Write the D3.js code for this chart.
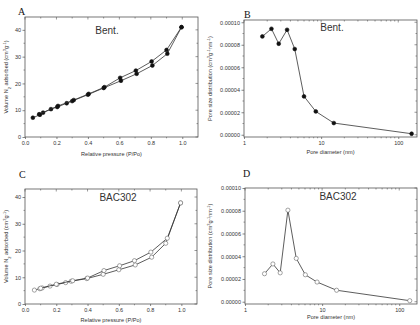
<!DOCTYPE html>
<html>
<head>
<meta charset="utf-8">
<script src="https://cdn.jsdelivr.net/npm/d3@7"></script>
<style>
  body { margin: 0; background: #fff; }
  svg { display: block; }
  text { font-family: "Liberation Sans", Arial, sans-serif; fill: #333; }
  .letter { font-family: "Liberation Serif", "Times New Roman", serif; font-size: 10px; fill: #111; }
</style>
</head>
<body>
<div id="chart"></div>
<script>
// Bentonite isotherm (adsorption / desorption branches)
var bentAdsP = [0.05, 0.095, 0.115, 0.165, 0.205, 0.265, 0.30, 0.40, 0.50, 0.61, 0.71, 0.81, 0.905, 0.995];
var bentAdsV = [7.2, 8.3, 9.1, 10.4, 11.2, 12.6, 13.4, 15.8, 18.3, 21.0, 23.6, 26.7, 31.1, 41.0];
var bentDesP = [0.995, 0.90, 0.805, 0.705, 0.605, 0.505, 0.405, 0.31, 0.21, 0.09];
var bentDesV = [41.0, 32.5, 28.2, 24.8, 22.1, 18.6, 16.1, 13.8, 11.6, 8.5];

// BAC302 isotherm
var bacAdsP = [0.06, 0.095, 0.11, 0.16, 0.205, 0.26, 0.295, 0.395, 0.50, 0.60, 0.705, 0.81, 0.90, 0.995];
var bacAdsV = [5.2, 5.7, 6.0, 6.7, 7.3, 8.0, 8.5, 9.5, 11.1, 12.8, 14.6, 17.5, 22.7, 37.8];
var bacDesP = [0.995, 0.91, 0.805, 0.70, 0.605, 0.505, 0.40, 0.305, 0.20, 0.10];
var bacDesV = [37.8, 24.6, 19.4, 16.2, 14.3, 12.5, 9.7, 8.7, 7.4, 5.9];

// pore size distributions
var bentPoreD = [1.73, 2.27, 2.82, 3.62, 4.55, 6.0, 8.53, 14.6, 149];
var bentPsd = [8.74e-5, 9.42e-5, 8.09e-5, 9.33e-5, 7.62e-5, 3.41e-5, 2.07e-5, 1.04e-5, 0.09e-5];
var bacPoreD = [1.79, 2.3, 2.86, 3.6, 4.62, 6.06, 8.6, 15.4, 137];
var bacPsd = [2.46e-5, 3.32e-5, 2.54e-5, 8.05e-5, 3.81e-5, 2.37e-5, 1.73e-5, 1.01e-5, 0.09e-5];

var isoTicks = [0, 0.2, 0.4, 0.6, 0.8, 1.0];
var volTicks = [0, 10, 20, 30, 40];
var psdTicks = [0, 2e-5, 4e-5, 6e-5, 8e-5, 1e-4];
var poreTicks = [1, 10, 100];

var svg = d3.select("#chart").append("svg")
    .attr("width", 420)
    .attr("height", 325);

var lineCol = "#333";

function zip(a, b) { return a.map(function(v, i) { return [v, b[i]]; }); }

function panel(p) {
  var g = svg.append("g");
  var x = p.log ? d3.scaleLog().domain(p.xd).range([p.l, p.r])
                : d3.scaleLinear().domain(p.xd).range([p.l, p.r]);
  var y = d3.scaleLinear().domain(p.yd).range([p.b, p.t]);

  // minor ticks
  var xMinor, yMinor;
  if (p.log) {
    xMinor = [];
    [1, 10, 100].forEach(function(d) {
      for (var k = 2; k < 10; k++) if (d * k <= p.xd[1]) xMinor.push(d * k);
    });
  } else {
    xMinor = d3.range(0.1, p.xd[1], 0.2);
  }
  var ys = p.yTicks[1] - p.yTicks[0];
  yMinor = d3.range(p.yTicks[0] + ys / 2, p.yd[1], ys);

  var bottom = d3.axisBottom(x).tickValues(p.xTicks).tickSize(2).tickPadding(1.5).tickFormat(p.xFmt);
  var left = d3.axisLeft(y).tickValues(p.yTicks).tickSize(2.5).tickPadding(1.5).tickFormat(p.yFmt);

  var ax = g.append("g").attr("transform", "translate(0," + p.b + ")").call(bottom);
  var ay = g.append("g").attr("transform", "translate(" + p.l + ",0)").call(left);
  [ax, ay].forEach(function(a) {
    a.select(".domain").remove();
    a.selectAll("line").attr("stroke", "#555").attr("stroke-width", 0.7);
    a.selectAll("text").style("font-size", "5.5px").attr("fill", "#333");
  });
  ax.selectAll("text").attr("dy", "0.75em");

  var tk = g.append("g").attr("stroke", "#555").attr("stroke-width", 0.6);
  xMinor.forEach(function(v) {
    tk.append("line").attr("x1", x(v)).attr("x2", x(v)).attr("y1", p.b).attr("y2", p.b + 1.3);
    tk.append("line").attr("x1", x(v)).attr("x2", x(v)).attr("y1", p.t).attr("y2", p.t + 1.5);
  });
  p.xTicks.forEach(function(v) {
    tk.append("line").attr("x1", x(v)).attr("x2", x(v)).attr("y1", p.t).attr("y2", p.t + 2.5);
  });
  yMinor.forEach(function(v) {
    tk.append("line").attr("x1", p.l).attr("x2", p.l - 1.5).attr("y1", y(v)).attr("y2", y(v));
    tk.append("line").attr("x1", p.r).attr("x2", p.r - 1.5).attr("y1", y(v)).attr("y2", y(v));
  });
  p.yTicks.forEach(function(v) {
    tk.append("line").attr("x1", p.r).attr("x2", p.r - 2.5).attr("y1", y(v)).attr("y2", y(v));
  });

  // axes box
  g.append("rect")
      .attr("x", p.l).attr("y", p.t)
      .attr("width", p.r - p.l).attr("height", p.b - p.t)
      .attr("fill", "none").attr("stroke", "#555").attr("stroke-width", 0.8);

  var line = d3.line().x(function(d) { return x(d[0]); }).y(function(d) { return y(d[1]); });

  p.series.forEach(function(s) {
    var pts = zip(s[0], s[1]);
    g.append("path").datum(pts)
        .attr("d", line)
        .attr("fill", "none")
        .attr("stroke", lineCol)
        .attr("stroke-width", 0.8);
    g.selectAll(null).data(pts).enter().append("circle")
        .attr("cx", function(d) { return x(d[0]); })
        .attr("cy", function(d) { return y(d[1]); })
        .attr("r", p.open ? 2.1 : 1.9)
        .attr("fill", p.open ? "#fff" : "#111")
        .attr("stroke", p.open ? "#666" : "#111")
        .attr("stroke-width", 0.6);
  });

  // labels
  g.append("text").attr("class", "letter")
      .attr("x", p.letterX).attr("y", p.letterY).text(p.letter);
  g.append("text")
      .attr("x", p.nameX).attr("y", p.nameY)
      .attr("text-anchor", "middle")
      .style("font-size", "10px").attr("fill", "#222")
      .text(p.name);
  g.append("text")
      .attr("x", (p.l + p.r) / 2).attr("y", p.b + p.xLabelDy)
      .attr("text-anchor", "middle")
      .style("font-size", "5.6px")
      .text(p.xLabel);

  var yl = g.append("text")
      .attr("transform", "translate(" + p.yLabelX + "," + ((p.t + p.b) / 2) + ") rotate(-90)")
      .attr("text-anchor", "middle")
      .style("font-size", "5.6px");
  p.yLabel.forEach(function(part) {
    var t = yl.append("tspan").text(part[0]);
    if (part[1] === "sub") t.attr("baseline-shift", "sub").style("font-size", "4px");
    if (part[1] === "sup") t.attr("baseline-shift", "super").style("font-size", "4px");
  });
}

var volLabel = [["Volume N"], ["2", "sub"], [" adsorbed (cm"], ["3", "sup"], ["g"], ["-1", "sup"], [")"]];
var psdLabel = [["Pore size distribution (cm"], ["3", "sup"], ["g"], ["-1", "sup"], ["nm"], ["-1", "sup"], [")"]];
var fmt1 = d3.format(".1f");
var fmt5 = d3.format(".5f");

panel({
  l: 25, r: 198, t: 17, b: 137, xd: [0, 1.1], yd: [0, 44.8],
  xTicks: isoTicks, yTicks: volTicks, xFmt: fmt1, yFmt: d3.format("d"),
  series: [[bentAdsP, bentAdsV], [bentDesP, bentDesV]],
  letter: "A", letterX: 18, letterY: 15, name: "Bent.", nameX: 107, nameY: 34,
  xLabel: "Relative pressure (P/Po)", xLabelDy: 19, yLabel: volLabel, yLabelX: 8
});

panel({
  l: 244, r: 417, t: 20, b: 137, xd: [1, 175], yd: [-0.000002, 0.000102], log: true,
  xTicks: poreTicks, yTicks: psdTicks, xFmt: d3.format("d"), yFmt: fmt5,
  series: [[bentPoreD, bentPsd]],
  letter: "B", letterX: 244, letterY: 18, name: "Bent.", nameX: 332, nameY: 31,
  xLabel: "Pore diameter (nm)", xLabelDy: 16.5, yLabel: psdLabel, yLabelX: 212
});

panel({
  l: 25, r: 197, t: 189, b: 304, xd: [0, 1.1], yd: [0, 43], open: true,
  xTicks: isoTicks, yTicks: volTicks, xFmt: fmt1, yFmt: d3.format("d"),
  series: [[bacAdsP, bacAdsV], [bacDesP, bacDesV]],
  letter: "C", letterX: 19, letterY: 178, name: "BAC302", nameX: 118, nameY: 200.5,
  xLabel: "Relative pressure (P/Po)", xLabelDy: 17.5, yLabel: volLabel, yLabelX: 8
});

panel({
  l: 245, r: 417, t: 188, b: 304, xd: [1, 170], yd: [-0.000002, 0.0001], log: true, open: true,
  xTicks: poreTicks, yTicks: psdTicks, xFmt: d3.format("d"), yFmt: fmt5,
  series: [[bacPoreD, bacPsd]],
  letter: "D", letterX: 243, letterY: 177, name: "BAC302", nameX: 338, nameY: 200,
  xLabel: "Pore diameter (nm)", xLabelDy: 14.5, yLabel: psdLabel, yLabelX: 212
});
</script>
</body>
</html>
